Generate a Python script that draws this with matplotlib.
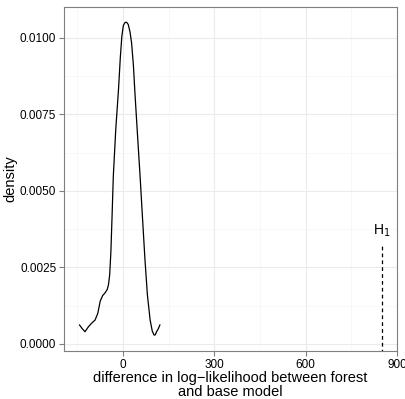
import numpy as np
import matplotlib
matplotlib.use("Agg")
import matplotlib.pyplot as plt
from matplotlib.ticker import MultipleLocator

plt.rcParams['font.family'] = ['Liberation Sans', 'DejaVu Sans']

# density of the log-likelihood differences
diff_x = [-143, -134, -125, -114, -103, -92, -83, -75, -67, -59, -52, -48, -44,
          -40, -36, -32, -24, -15, -9, -4, 1, 7, 12, 17, 23, 28, 34, 39, 47, 56,
          64, 72, 80, 89, 96, 102, 106, 110, 116, 121]
dens_y = [0.00062, 0.00050, 0.00040, 0.00056, 0.00068, 0.00078, 0.00100, 0.00140,
          0.00158, 0.00167, 0.00178, 0.00193, 0.00225, 0.00300, 0.00420, 0.00547,
          0.00700, 0.00830, 0.00935, 0.01004, 0.01040, 0.01050, 0.01050, 0.01043,
          0.01018, 0.00983, 0.00910, 0.00820, 0.00690, 0.00547, 0.00410, 0.00275,
          0.00160, 0.00078, 0.00042, 0.00029, 0.00030, 0.00040, 0.00050, 0.00062]

h1_x = 850
h1_top = 0.0033

xticks = [0, 300, 600, 900]
yticks = [0.0, 0.0025, 0.005, 0.0075, 0.01]

fig = plt.figure(figsize=(4.06, 3.99), dpi=100)
ax = fig.add_axes([64 / 406, 48 / 399, 333 / 406, 344 / 399])

ax.plot(diff_x, dens_y, color='black', lw=0.9)
ax.plot([h1_x, h1_x], [-0.0003, h1_top], color='black', lw=0.9, ls=(0, (3, 2.5)))
ax.text(h1_x, h1_top + 0.00012, r'H$_1$', ha='center', va='bottom', fontsize=10)

ax.set_xlim(-194, 900)
ax.set_ylim(-0.000229, 0.011)
ax.set_xticks(xticks)
ax.set_xticklabels([str(t) for t in xticks])
ax.set_yticks(yticks)
ax.set_yticklabels(['%.4f' % t for t in yticks])
ax.xaxis.set_minor_locator(MultipleLocator(150))
ax.yaxis.set_minor_locator(MultipleLocator(0.00125))

ax.grid(which='major', color='#ebebeb', lw=0.8)
ax.grid(which='minor', color='#f5f5f5', lw=0.5)
ax.set_axisbelow(True)
for s in ax.spines.values():
    s.set_color('#7f7f7f')
    s.set_linewidth(0.8)
ax.tick_params(which='major', length=3.5, width=0.8, color='#7f7f7f',
               labelsize=8.5, labelcolor='black', pad=2)
ax.tick_params(which='minor', length=0)

ax.set_xlabel('difference in log\u2212likelihood between forest\nand base model',
              fontsize=10.5, labelpad=0.5, linespacing=1.0)
ax.set_ylabel('density', fontsize=10.5, labelpad=2)

fig.savefig('out.png', dpi=100)
